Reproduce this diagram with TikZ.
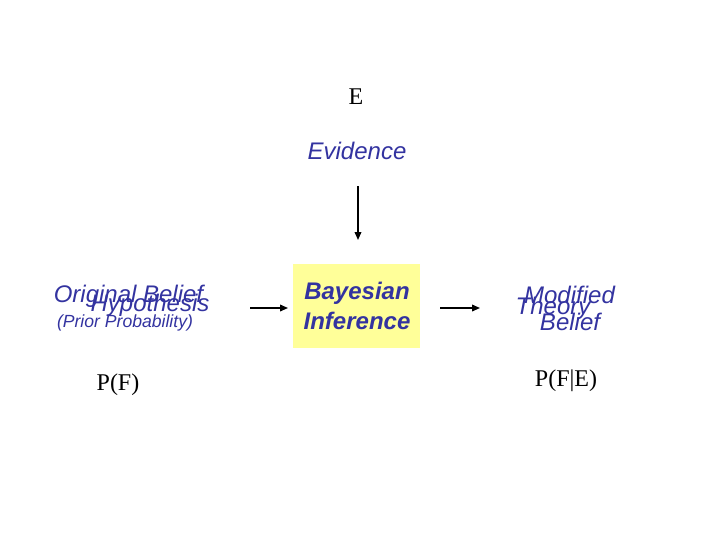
\documentclass[tikz,border=0pt]{standalone}
\usepackage{fontspec}
\setmainfont{Liberation Serif}
\newfontfamily\arialfont{Liberation Sans}
\usetikzlibrary{arrows.meta}
\definecolor{txtblue}{RGB}{51,51,160}
\definecolor{boxyellow}{RGB}{255,255,153}
\tikzset{
  bluetxt/.style={font=\arialfont\itshape\fontsize{18}{20}\selectfont, text=txtblue, inner sep=0pt},
  smallblue/.style={font=\arialfont\itshape\fontsize{13.2}{15}\selectfont, text=txtblue, inner sep=0pt},
  serif/.style={font=\fontsize{18}{20}\selectfont, inner sep=0pt},
  conn/.style={line width=1.1pt, -{Triangle[length=6pt,width=5pt]}},
  ybox/.style={fill=boxyellow, draw=none, minimum width=95.25pt, minimum height=63pt, inner sep=0pt}
}
\begin{document}
\begin{tikzpicture}[x=0.75pt,y=-0.75pt]
\useasboundingbox (0,0) rectangle (720,540);
\node[serif] (E) at (356,97) {E};
\node[bluetxt] (ev) at (357,151) {Evidence};
\node[ybox] (box) at (356.5,306) {};
\node[bluetxt, font=\arialfont\bfseries\itshape\fontsize{18}{20}\selectfont] (bay) at (357,293) {Bayesian};
\node[bluetxt, font=\arialfont\bfseries\itshape\fontsize{18}{20}\selectfont] (inf) at (357,321) {Inference};
\node[bluetxt] (orig) at (128.5,296) {Original Belief};
\node[bluetxt] (hyp) at (150,305) {Hypothesis};
\node[smallblue] (prior) at (125,323) {(Prior Probability)};
\node[bluetxt] (mod) at (569.5,295) {Modified};
\node[bluetxt] (theo) at (553,308) {Theory};
\node[bluetxt] (bel) at (570,322) {Belief};
\node[serif] (pf) at (118,385) {P(F)};
\node[serif] (pfe) at (566,381) {P(F|E)};
\coordinate (va) at (358,186);
\coordinate (vb) at (358,240);
\coordinate (la) at (250,308);
\coordinate (lb) at (288,308);
\coordinate (ra) at (440,308);
\coordinate (rb) at (480,308);
\draw[conn] (va) -- (vb);
\draw[conn] (la) -- (lb);
\draw[conn] (ra) -- (rb);
\end{tikzpicture}
\end{document}
